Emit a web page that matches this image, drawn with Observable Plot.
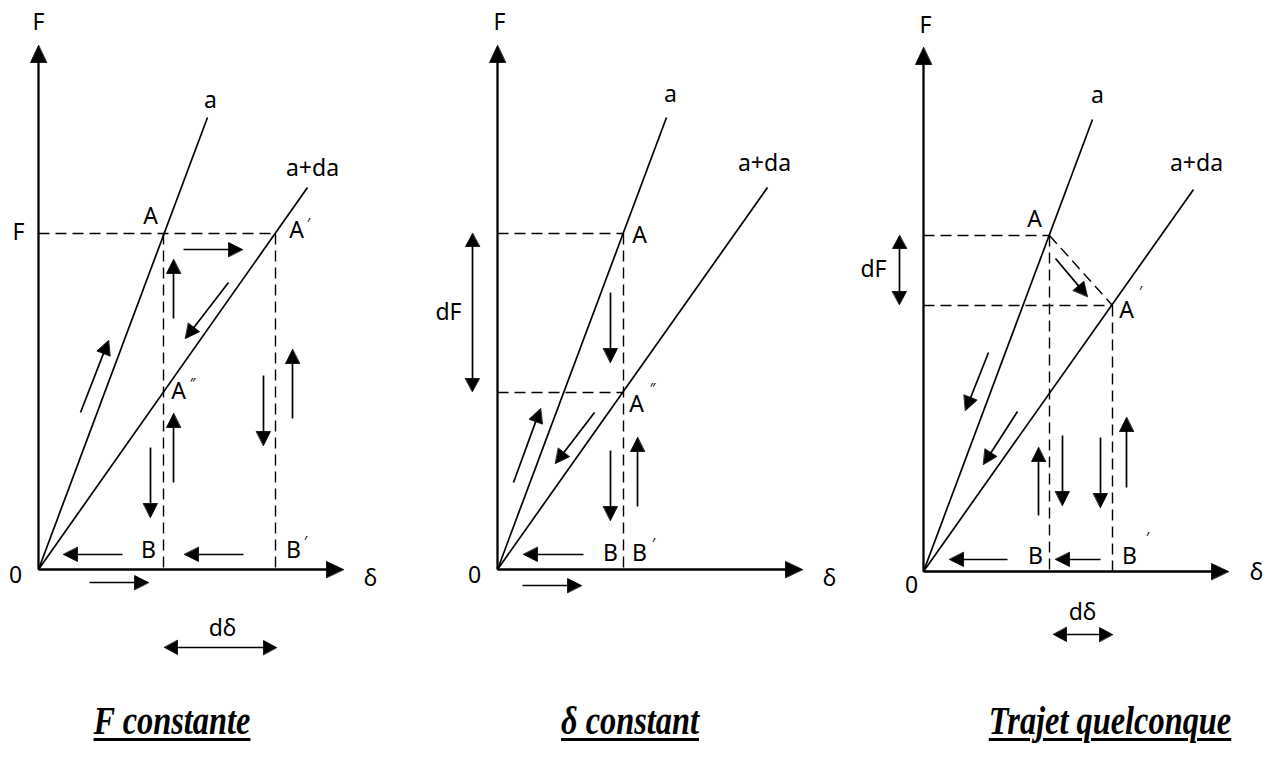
<!DOCTYPE html>
<html>
<head>
<meta charset="utf-8">
<script src="https://cdn.jsdelivr.net/npm/d3@7"></script>
<script src="https://cdn.jsdelivr.net/npm/@observablehq/plot@0.6"></script>
<style>
  html, body { margin: 0; padding: 0; background: #fff; }
  #root { position: relative; width: 1273px; height: 769px; overflow: hidden; }
  .panel { position: absolute; top: 0; }
  .cap { position: absolute; top: 698px; width: 400px; text-align: center;
         font-family: "Liberation Serif", serif; font-weight: bold; font-style: italic;
         font-size: 39px; text-decoration: underline; text-decoration-thickness: 3px;
         text-underline-offset: 4px; color: #000; transform: scaleX(0.83); transform-origin: center; }
</style>
</head>
<body>
<div id="root"></div>
<script>
// ---------- data (diagram units: δ to the right, F upward, origin = O) ----------
const captions = ["F constante", "δ constant", "Trajet quelconque"];

// Panel 1 : F constante
const p1Lines  = [ {x1:0,y1:0,x2:169,y2:452,name:"a"}, {x1:0,y1:0,x2:269,y2:382,name:"a+da"} ];
const p1Dashed = [ {x1:0,y1:336,x2:237,y2:336}, {x1:125,y1:336,x2:125,y2:0}, {x1:237,y1:336,x2:237,y2:0} ];
const p1Arrows = [
  {x1:145,y1:320,x2:204,y2:320}, {x1:135,y1:251,x2:135,y2:310}, {x1:190,y1:287,x2:147,y2:231},
  {x1:42,y1:157,x2:70,y2:229},   {x1:112,y1:122,x2:112,y2:52},  {x1:135,y1:87,x2:135,y2:156},
  {x1:225,y1:194,x2:225,y2:124}, {x1:254,y1:151,x2:254,y2:220}, {x1:84,y1:15,x2:25,y2:15},
  {x1:205,y1:15,x2:146,y2:15},   {x1:51,y1:-13,x2:110,y2:-13}
];
const p1Double = [ {x1:126,y1:-78,x2:238,y2:-78} ];
const p1Labels = [
  {x:0,y:547,t:"F"}, {x:172,y:469,t:"a"}, {x:274,y:401,t:"a+da"}, {x:112,y:353,t:"A"},
  {x:-20,y:337,t:"F"}, {x:258,y:339,t:"A"}, {x:140,y:178,t:"A"}, {x:110,y:19,t:"B"},
  {x:255,y:19,t:"B"}, {x:-23,y:-6,t:"0"}, {x:332,y:-9,t:"δ"}, {x:184,y:-59,t:"dδ"}
];
const p1Primes = [ {x:270,y:346,t:"′"}, {x:154,y:186,t:"″"}, {x:267,y:28,t:"′"} ];

// Panel 2 : δ constant
const p2Lines  = [ {x1:0,y1:0,x2:169,y2:452,name:"a"}, {x1:0,y1:0,x2:270,y2:382,name:"a+da"} ];
const p2Dashed = [ {x1:0,y1:336,x2:126,y2:336}, {x1:126,y1:336,x2:126,y2:0}, {x1:0,y1:177,x2:126,y2:177} ];
const p2Arrows = [
  {x1:113,y1:277,x2:113,y2:207}, {x1:16,y1:87,x2:43,y2:161},  {x1:97,y1:157,x2:58,y2:106},
  {x1:113,y1:119,x2:113,y2:49},  {x1:140,y1:63,x2:140,y2:132}, {x1:86,y1:15,x2:26,y2:15},
  {x1:25,y1:-16,x2:84,y2:-16}
];
const p2Double = [ {x1:-25,y1:336,x2:-25,y2:178} ];
const p2Labels = [
  {x:2,y:547,t:"F"}, {x:173,y:475,t:"a"}, {x:267,y:406,t:"a+da"}, {x:142,y:334,t:"A"},
  {x:-49,y:257,t:"dF"}, {x:139,y:165,t:"A"}, {x:113,y:16,t:"B"}, {x:142,y:16,t:"B"},
  {x:-23,y:-6,t:"0"}, {x:332,y:-9,t:"δ"}
];
const p2Primes = [ {x:155,y:181,t:"″"}, {x:156,y:26,t:"′"} ];

// Panel 3 : Trajet quelconque
const p3Lines  = [ {x1:0,y1:0,x2:169,y2:452,name:"a"}, {x1:0,y1:0,x2:270,y2:382,name:"a+da"} ];
const p3Dashed = [
  {x1:0,y1:336,x2:126,y2:336}, {x1:0,y1:266,x2:189,y2:266}, {x1:126,y1:336,x2:126,y2:0},
  {x1:189,y1:266,x2:189,y2:0}, {x1:126,y1:336,x2:189,y2:266}
];
const p3Arrows = [
  {x1:132,y1:313,x2:164,y2:275}, {x1:65,y1:219,x2:42,y2:161}, {x1:94,y1:160,x2:60,y2:107},
  {x1:115,y1:56,x2:115,y2:124},  {x1:139,y1:136,x2:139,y2:66}, {x1:177,y1:134,x2:177,y2:64},
  {x1:203,y1:84,x2:203,y2:154},  {x1:84,y1:12,x2:26,y2:12},   {x1:177,y1:12,x2:132,y2:12}
];
const p3Double = [ {x1:-24,y1:336,x2:-24,y2:267}, {x1:130,y1:-63,x2:189,y2:-63} ];
const p3Labels = [
  {x:2,y:546,t:"F"}, {x:174,y:476,t:"a"}, {x:273,y:408,t:"a+da"}, {x:111,y:352,t:"A"},
  {x:-50,y:302,t:"dF"}, {x:203,y:261,t:"A"}, {x:112,y:15,t:"B"}, {x:206,y:15,t:"B"},
  {x:-12,y:-14,t:"0"}, {x:333,y:-1,t:"δ"}, {x:159,y:-41,t:"dδ"}
];
const p3Primes = [ {x:217,y:280,t:"′"}, {x:224,y:34,t:"′"} ];

// axes of every panel (length of δ and F axes)
const axisLengths = [ {dx:305, fy:524}, {dx:305, fy:524}, {dx:305, fy:524} ];

// ---------- drawing ----------
function head(a, L, W, id) {
  const dx = a.x2 - a.x1, dy = a.y2 - a.y1, d = Math.hypot(dx, dy);
  const ux = dx / d, uy = dy / d;
  const bx = a.x2 - ux * L, by = a.y2 - uy * L;
  return [
    {x: a.x2, y: a.y2, id}, {x: bx - uy * W, y: by + ux * W, id}, {x: bx + uy * W, y: by - ux * W, id}
  ];
}
function rev(a) { return {x1: a.x2, y1: a.y2, x2: a.x1, y2: a.y1}; }

function panel(cfg) {
  const {left, width, height, ox, oy, lines, dashed, arrows, doubles, labels, primes, axis} = cfg;
  const axes = [ {x1:0,y1:0,x2:axis.dx,y2:0}, {x1:0,y1:0,x2:0,y2:axis.fy} ];
  let heads = [], k = 0;
  axes.forEach(a => heads.push(...head(a, 17, 8, k++)));
  arrows.forEach(a => heads.push(...head(a, 14, 7, k++)));
  doubles.forEach(a => { heads.push(...head(a, 13, 7, k++)); heads.push(...head(rev(a), 13, 7, k++)); });
  const shaft = a => { const dx=a.x2-a.x1, dy=a.y2-a.y1, d=Math.hypot(dx,dy);
    return {x1:a.x1, y1:a.y1, x2:a.x2 - dx/d*10, y2:a.y2 - dy/d*10}; };
  const dshaft = a => { const s = shaft(a); const r = shaft(rev(a)); return {x1:r.x2, y1:r.y2, x2:s.x2, y2:s.y2}; };
  const font = "'Noto Sans', 'Liberation Sans', sans-serif";
  const chart = Plot.plot({
    width, height, margin: 0,
    x: {domain: [-ox, width - ox], range: [0, width], axis: null},
    y: {domain: [oy - height, oy], range: [height, 0], axis: null},
    style: {overflow: "visible", background: "transparent"},
    marks: [
      Plot.link(dashed, {x1:"x1", y1:"y1", x2:"x2", y2:"y2", stroke:"black", strokeWidth:1.4, strokeDasharray:"11,6"}),
      Plot.link(lines, {x1:"x1", y1:"y1", x2:"x2", y2:"y2", stroke:"black", strokeWidth:1.7}),
      Plot.link(axes.map(shaft), {x1:"x1", y1:"y1", x2:"x2", y2:"y2", stroke:"black", strokeWidth:2.3}),
      Plot.link(arrows.map(shaft), {x1:"x1", y1:"y1", x2:"x2", y2:"y2", stroke:"black", strokeWidth:1.7}),
      Plot.link(doubles.map(dshaft), {x1:"x1", y1:"y1", x2:"x2", y2:"y2", stroke:"black", strokeWidth:1.7}),
      Plot.line(heads, {x:"x", y:"y", z:"id", fill:"black", stroke:"black", strokeWidth:0.8, curve:"linear-closed"}),
      Plot.text(labels, {x:"x", y:"y", text:"t", fontSize:23, fontFamily:font, fill:"black"}),
      Plot.text(primes, {x:"x", y:"y", text:"t", fontSize:14, fontFamily:font, fill:"black"})
    ]
  });
  const div = document.createElement("div");
  div.className = "panel";
  div.style.left = left + "px";
  div.appendChild(chart);
  return div;
}

const root = document.getElementById("root");
root.appendChild(panel({left:0,   width:410, height:680, ox:38,  oy:569, lines:p1Lines, dashed:p1Dashed, arrows:p1Arrows, doubles:p1Double, labels:p1Labels, primes:p1Primes, axis:axisLengths[0]}));
root.appendChild(panel({left:440, width:420, height:680, ox:57,  oy:569, lines:p2Lines, dashed:p2Dashed, arrows:p2Arrows, doubles:p2Double, labels:p2Labels, primes:p2Primes, axis:axisLengths[1]}));
root.appendChild(panel({left:860, width:413, height:680, ox:63,  oy:571, lines:p3Lines, dashed:p3Dashed, arrows:p3Arrows, doubles:p3Double, labels:p3Labels, primes:p3Primes, axis:axisLengths[2]}));

const capCenters = [172, 630, 1110];
captions.forEach((c, i) => {
  const d = document.createElement("div");
  d.className = "cap";
  d.style.left = (capCenters[i] - 200) + "px";
  d.textContent = c;
  root.appendChild(d);
});
</script>
</body>
</html>
